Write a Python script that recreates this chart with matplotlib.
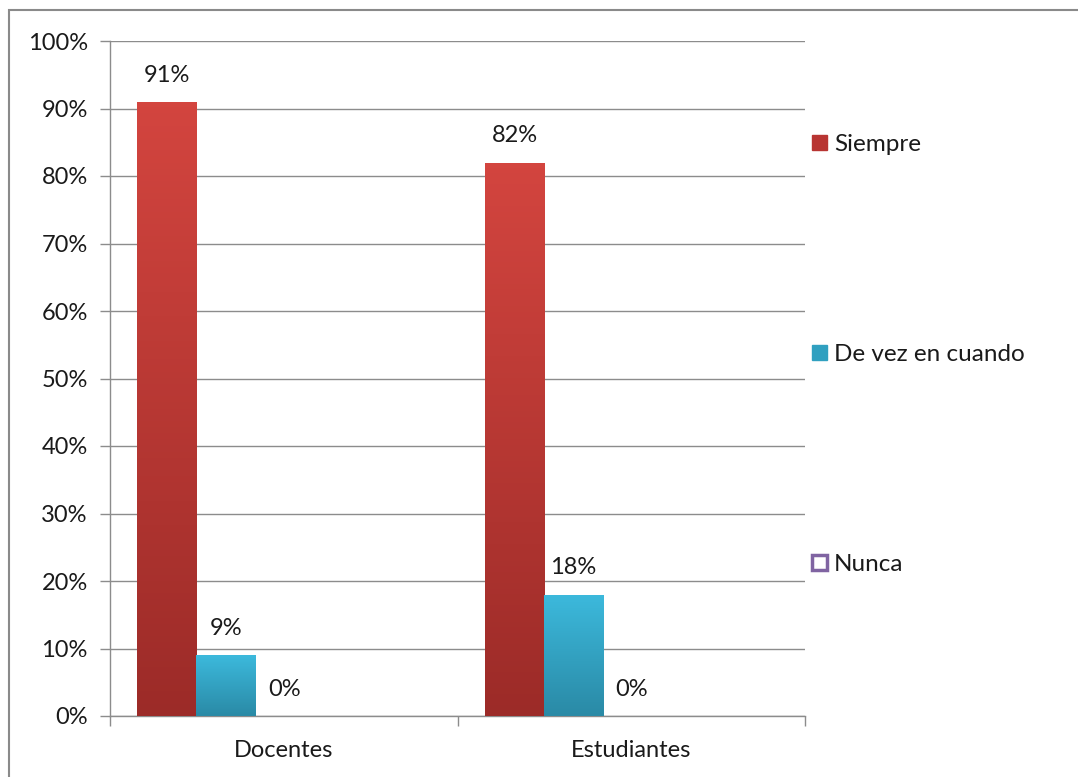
import matplotlib.pyplot as plt
import numpy as np
from matplotlib.patches import Patch, Rectangle
from matplotlib.colors import LinearSegmentedColormap

categories = ['Docentes', 'Estudiantes']
series = ['Siempre', 'De vez en cuando', 'Nunca']
values = [[0.91, 0.82], [0.09, 0.18], [0.0, 0.0]]
yticks = [i / 10 for i in range(11)]

plt.rcParams['font.family'] = ['Lato', 'DejaVu Sans']

top_cols = ['#d3453f', '#3cb9dc', '#8064a2']
bot_cols = ['#9c2b28', '#2a8aa6', '#8064a2']
offsets = [-0.336, -0.167, 0.002]
width = 0.171
grid_c = '#8c8c8c'
fs = 17

fig = plt.figure(figsize=(10.78, 7.77), dpi=100)
ax = fig.add_axes([110 / 1078, 1 - 716 / 777, 695 / 1078, 675 / 777])

# outer chart frame
fig.patches.append(Rectangle((9 / 1078, -0.05), 1.1, 1 - 10 / 777 + 0.05,
                             transform=fig.transFigure, fill=False,
                             edgecolor='#8a8a8a', linewidth=1.5))

x = np.arange(len(categories))
for i, s in enumerate(series):
    bars = ax.bar(x + offsets[i], values[i], width, color=top_cols[i],
                  zorder=3, label=s, linewidth=0)
    cmap = LinearSegmentedColormap.from_list('g', [bot_cols[i], top_cols[i]])
    for b, v in zip(bars, values[i]):
        if v > 0:
            x0 = b.get_x()
            im = ax.imshow(np.linspace(0, 1, 100).reshape(-1, 1), cmap=cmap,
                           origin='lower', aspect='auto',
                           extent=[x0, x0 + width, 0, v], zorder=3)
            im.set_clip_path(b)
        ax.text(b.get_x() + width / 2, v + 0.024, f'{round(v * 100)}%',
                ha='center', va='bottom', fontsize=fs, color='#1a1a1a',
                zorder=4)

ax.set_xlim(-0.5, 1.5)
ax.set_ylim(0, 1)
ax.set_yticks(yticks)
ax.set_yticklabels([f'{int(round(t * 100))}%' for t in yticks])
ax.set_xticks(x)
ax.set_xticklabels(categories)
ax.set_xticks([-0.5, 0.5, 1.5], minor=True)
ax.tick_params(axis='x', which='major', length=0, pad=17, labelsize=fs,
               labelcolor='#1a1a1a')
ax.tick_params(axis='x', which='minor', length=7, width=1, color=grid_c,
               direction='out')
ax.tick_params(axis='y', length=7, width=1, color=grid_c, pad=9,
               labelsize=fs, labelcolor='#1a1a1a')
ax.yaxis.grid(True, color=grid_c, linewidth=1)
ax.set_axisbelow(True)
for sp in ['top', 'right']:
    ax.spines[sp].set_visible(False)
for sp in ['left', 'bottom']:
    ax.spines[sp].set_color(grid_c)
    ax.spines[sp].set_linewidth(1)

handles = [Patch(facecolor='#b83532', edgecolor='#b83532'),
           Patch(facecolor='#30a0c0', edgecolor='#30a0c0'),
           Patch(facecolor='white', edgecolor='#8064a2', linewidth=2.5)]
leg = ax.legend(handles, series, loc='upper left',
                bbox_to_anchor=(1.01, (716 - 134) / 675),
                frameon=False, fontsize=17.5, handlelength=0.6,
                handleheight=0.6, handletextpad=0.3, labelspacing=7.78,
                borderaxespad=0, borderpad=0)
for t in leg.get_texts():
    t.set_color('#1a1a1a')

fig.savefig('out.png', dpi=100)
